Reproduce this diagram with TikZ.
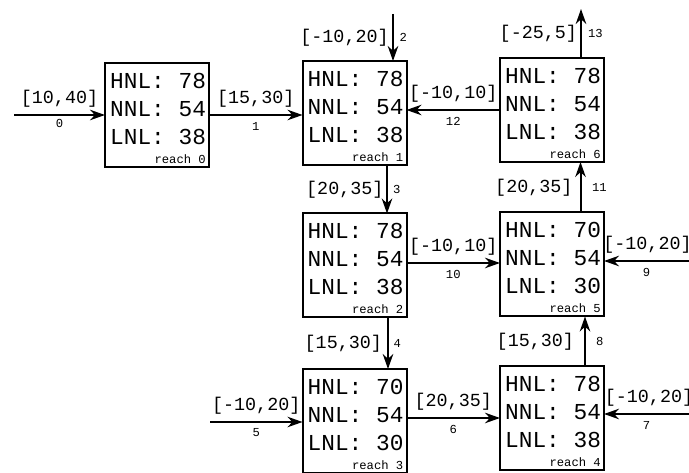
\documentclass[tikz,border=0pt]{standalone}
\usepackage{fontspec}
\newfontfamily\monof{Liberation Mono}
\usetikzlibrary{arrows.meta}
\begin{document}
\begin{tikzpicture}[x=1pt,y=-1pt,
  box/.style={draw, line width=2pt, minimum width=104pt, minimum height=104pt, inner sep=0pt, outer sep=0pt},
  vals/.style={anchor=north west, align=left, inner sep=0pt, font=\monof\fontsize{22.8}{28}\selectfont},
  rname/.style={anchor=base east, inner sep=0pt, font=\monof\fontsize{12.2}{14}\selectfont},
  arr/.style={line width=2pt, -{Stealth[length=15pt,width=10.5pt]}},
  lblh/.style={midway, yshift=16.5pt, inner sep=0pt, font=\monof\fontsize{18.4}{20}\selectfont},
  numh/.style={midway, yshift=-11pt, inner sep=0pt, font=\monof\fontsize{12.2}{14}\selectfont},
  lblv/.style={midway, anchor=east, inner sep=0pt, font=\monof\fontsize{18.4}{20}\selectfont},
  numv/.style={midway, anchor=west, inner sep=0pt, font=\monof\fontsize{12.2}{14}\selectfont},
]
\useasboundingbox (0,0) rectangle (689,473);

% boxes
\node[box] (r0) at (157,115) {};
\node[box] (r1) at (354.5,113) {};
\node[box] (r6) at (552,110) {};
\node[box] (r2) at (354.5,265.5) {};
\node[box] (r5) at (552,264.5) {};
\node[box] (r3) at (354.5,421) {};
\node[box] (r4) at (552,418) {};

% box contents
\node[vals] (v0) at ([shift={(5,9.7)}]r0.north west) {HNL: 78\\NNL: 54\\LNL: 38};
\node[vals] (v1) at ([shift={(5,9.7)}]r1.north west) {HNL: 78\\NNL: 54\\LNL: 38};
\node[vals] (v6) at ([shift={(5,9.7)}]r6.north west) {HNL: 78\\NNL: 54\\LNL: 38};
\node[vals] (v2) at ([shift={(5,9.7)}]r2.north west) {HNL: 78\\NNL: 54\\LNL: 38};
\node[vals] (v5) at ([shift={(5,9.7)}]r5.north west) {HNL: 70\\NNL: 54\\LNL: 30};
\node[vals] (v3) at ([shift={(5,9.7)}]r3.north west) {HNL: 70\\NNL: 54\\LNL: 30};
\node[vals] (v4) at ([shift={(5,9.7)}]r4.north west) {HNL: 78\\NNL: 54\\LNL: 38};

\node[rname] (t0) at ([shift={(-3,-3.7)}]r0.south east) {reach 0};
\node[rname] (t1) at ([shift={(-3,-3.7)}]r1.south east) {reach 1};
\node[rname] (t6) at ([shift={(-3,-3.7)}]r6.south east) {reach 6};
\node[rname] (t2) at ([shift={(-3,-3.7)}]r2.south east) {reach 2};
\node[rname] (t5) at ([shift={(-3,-3.7)}]r5.south east) {reach 5};
\node[rname] (t3) at ([shift={(-3,-3.7)}]r3.south east) {reach 3};
\node[rname] (t4) at ([shift={(-3,-3.7)}]r4.south east) {reach 4};

% helper coordinates
\coordinate (s0) at (14,115);
\coordinate (s2) at (393,14);
\coordinate (e13) at (581,9);
\coordinate (x3) at (387,0);
\coordinate (y10) at (0,263);
\coordinate (s9) at (689,261);
\coordinate (x11) at (580.5,0);
\coordinate (x4) at (388,0);
\coordinate (s5) at (210,422);
\coordinate (y6) at (0,418);
\coordinate (s7) at (689,414);
\coordinate (x8) at (585,0);

% connectors
\draw[arr] (s0) -- node[lblh] (l0) {[10,40]} node[numh, yshift=3pt] (m0) {0} (r0.west);
\draw[arr] (r0.east) -- node[lblh] (l1) {[15,30]} node[numh] (m1) {1} (r1.west |- r0.east);
\draw[arr] (s2) -- node[lblv, xshift=-3.3pt] (l2) {[-10,20]} node[numv, xshift=5.5pt] (m2) {2} (s2 |- r1.north);
\draw[arr] (r6.west) -- node[lblh] (l12) {[-10,10]} node[numh] (m12) {12} (r1.east |- r6.west);
\draw[arr] (e13 |- r6.north) -- node[lblv, xshift=-3pt] (l13) {[-25,5]} node[numv, xshift=6pt] (m13) {13} (e13);
\draw[arr] (x3 |- r1.south) -- node[lblv, xshift=-2.5pt] (l3) {[20,35]} node[numv, xshift=5pt] (m3) {3} (x3 |- r2.north);
\draw[arr] (r2.east |- y10) -- node[lblh] (l10) {[-10,10]} node[numh] (m10) {10} (r5.west |- y10);
\draw[arr] (s9) -- node[lblh, xshift=1pt] (l9) {[-10,20]} node[numh] (m9) {9} (r5.east |- s9);
\draw[arr] (x11 |- r5.north) -- node[lblv, xshift=-7pt] (l11) {[20,35]} node[numv, xshift=10.5pt] (m11) {11} (x11 |- r6.south);
\draw[arr] (x4 |- r2.south) -- node[lblv, xshift=-5pt] (l4) {[15,30]} node[numv, xshift=4.5pt] (m4) {4} (x4 |- r3.north);
\draw[arr] (s5) -- node[lblh] (l5) {[-10,20]} node[numh] (m5) {5} (r3.west |- s5);
\draw[arr] (r3.east |- y6) -- node[lblh] (l6) {[20,35]} node[numh] (m6) {6} (r4.west |- y6);
\draw[arr] (s7) -- node[lblh, xshift=2.5pt] (l7) {[-10,20]} node[numh] (m7) {7} (r4.east |- s7);
\draw[arr] (x8 |- r4.north) -- node[lblv, xshift=-10pt] (l8) {[15,30]} node[numv, xshift=10pt] (m8) {8} (x8 |- r5.south);
\end{tikzpicture}
\end{document}
